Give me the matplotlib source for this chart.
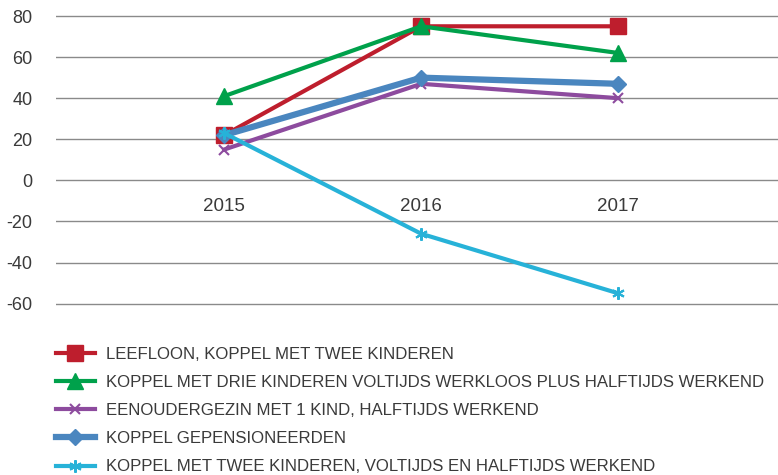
import matplotlib
matplotlib.use("Agg")
import matplotlib.pyplot as plt

years = ["2015", "2016", "2017"]
labels = [
    "LEEFLOON, KOPPEL MET TWEE KINDEREN",
    "KOPPEL MET DRIE KINDEREN VOLTIJDS WERKLOOS PLUS HALFTIJDS WERKEND",
    "EENOUDERGEZIN MET 1 KIND, HALFTIJDS WERKEND",
    "KOPPEL GEPENSIONEERDEN",
    "KOPPEL MET TWEE KINDEREN, VOLTIJDS EN HALFTIJDS WERKEND",
]
leefloon = [22, 75, 75]
drie_kinderen = [41, 75, 62]
eenouder = [15, 47, 40]
gepensioneerden = [22, 50, 47]
twee_kinderen = [23, -26, -55]
yticks = [80, 60, 40, 20, 0, -20, -40, -60]

series = [leefloon, drie_kinderen, eenouder, gepensioneerden, twee_kinderen]
colors = ["#BE1E2D", "#00A14B", "#8D4B9E", "#4A86BF", "#27B2D8"]
markers = ["s", "^", "x", "D", (6, 2, 0)]
msizes = [12, 11, 7, 8, 9]
lws = [3, 3, 3, 4.5, 3]

plt.rcParams["font.family"] = ["Liberation Sans", "DejaVu Sans"]
fig = plt.figure(figsize=(7.78, 4.75), dpi=100)
ax = fig.add_axes([56 / 778, 1 - 318 / 475, 1 - 56 / 778, 318 / 475])

x = list(range(len(years)))
handles = []
for vals, c, m, ms, lw, lab in zip(series, colors, markers, msizes, lws, labels):
    h, = ax.plot(x, vals, color=c, marker=m, markersize=ms, lw=lw, label=lab,
                 markeredgewidth=1.5 if m in ("x",) or isinstance(m, tuple) else 1,
                 markeredgecolor=c, zorder=3)
    handles.append(h)

ax.set_xlim(-0.853, 2.81)
ax.set_ylim(-67, 87.8)
ax.set_yticks(yticks)
ax.set_yticklabels([str(v) for v in yticks], fontsize=13, color="#3a3a3a")
ax.yaxis.grid(True, color="#8a8a8a", lw=1)
ax.set_axisbelow(True)
ax.tick_params(axis="y", length=0, pad=17)
for s in ["left", "right", "top"]:
    ax.spines[s].set_visible(False)
ax.spines["bottom"].set_position(("data", 0))
ax.spines["bottom"].set_visible(False)
ax.set_xticks(x)
ax.set_xticklabels(years, fontsize=13.5, color="#3a3a3a")
ax.tick_params(axis="x", length=0, pad=13)

fig.legend(handles=handles, labels=labels, loc="upper left",
           bbox_to_anchor=(56 / 778, 1 - 347 / 475), frameon=False,
           fontsize=12.1, handlelength=2.3, handletextpad=0.7,
           labelspacing=0.78, borderaxespad=0, borderpad=0,
           labelcolor="#3a3a3a")

fig.savefig("out.png", dpi=100)
